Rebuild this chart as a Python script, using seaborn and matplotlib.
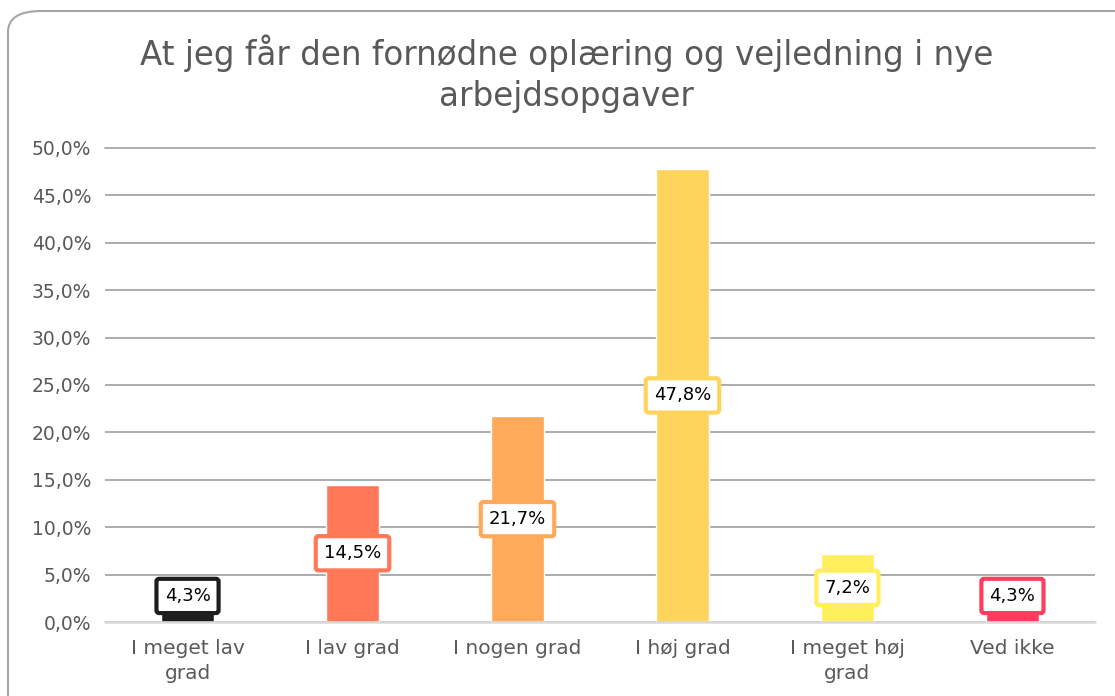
import numpy as np
import pandas as pd
import seaborn as sns
import matplotlib.pyplot as plt
from matplotlib.patches import FancyBboxPatch

# data
kategorier = ['I meget lav\ngrad', 'I lav grad', 'I nogen grad', 'I høj grad',
              'I meget høj\ngrad', 'Ved ikke']
andele = [4.3, 14.5, 21.7, 47.8, 7.2, 4.3]
farver = ['#1e1e1e', '#ff7857', '#ffa95a', '#ffd45c', '#ffef5c', '#ff3d5e']
y_ticks = [0, 5, 10, 15, 20, 25, 30, 35, 40, 45, 50]

df = pd.DataFrame({'kategori': kategorier, 'andel': andele})

sns.set_style('white')
plt.rcParams['font.family'] = ['DejaVu Sans']

fig = plt.figure(figsize=(11.15, 6.96), dpi=100)
ax = fig.add_axes([0.0942, 0.1063, 0.8878, 0.6811])

# afrundet ramme rundt om diagrammet
ramme = FancyBboxPatch((8 / 1115, -0.2), 1.2, 1.2 - 11 / 696,
                       boxstyle='round,pad=0,rounding_size=0.03',
                       transform=fig.transFigure, facecolor='white',
                       edgecolor='#a6a6a6', linewidth=1.5, zorder=-10)
fig.patches.append(ramme)

sns.barplot(data=df, x='kategori', y='andel', hue='kategori', palette=farver,
            width=0.32, legend=False, ax=ax, zorder=3, saturation=1)

ax.set_ylim(0, 50)
ax.set_yticks(y_ticks)
ax.set_yticklabels([f'{v:.1f}%'.replace('.', ',') for v in y_ticks],
                   fontsize=13.5, color='#595959')
ax.tick_params(axis='x', length=0, pad=12)
ax.tick_params(axis='y', length=0, pad=10)
for lbl in ax.get_xticklabels():
    lbl.set_fontsize(14.5)
    lbl.set_color('#595959')
    lbl.set_linespacing(1.45)
ax.set_xlabel('')
ax.set_ylabel('')
for s in ax.spines.values():
    s.set_visible(False)
ax.grid(axis='y', color='#a6a6a6', linewidth=1.3, zorder=0)
ax.get_ygridlines()[-1].set_clip_on(False)
ax.axhline(0, color='#d9d9d9', linewidth=1.8, zorder=4, clip_on=False)
ax.set_xlim(-0.5, len(kategorier) - 0.5)

# etiketter midt på søjlen, løftet lidt for de små søjler
for i, (v, c) in enumerate(zip(andele, farver)):
    ax.text(i, max(v / 2, 2.75), f'{v:.1f}%'.replace('.', ','), ha='center', va='center',
            fontsize=13, color='black', zorder=5,
            bbox=dict(boxstyle='round,pad=0.45,rounding_size=0.15',
                      facecolor='white', edgecolor=c, linewidth=3))

fig.text(0.508, 0.894, 'At jeg får den fornødne oplæring og vejledning i nye\narbejdsopgaver',
         ha='center', va='center', fontsize=23.5, color='#595959', linespacing=1.3)

fig.savefig('out.png', dpi=100)
